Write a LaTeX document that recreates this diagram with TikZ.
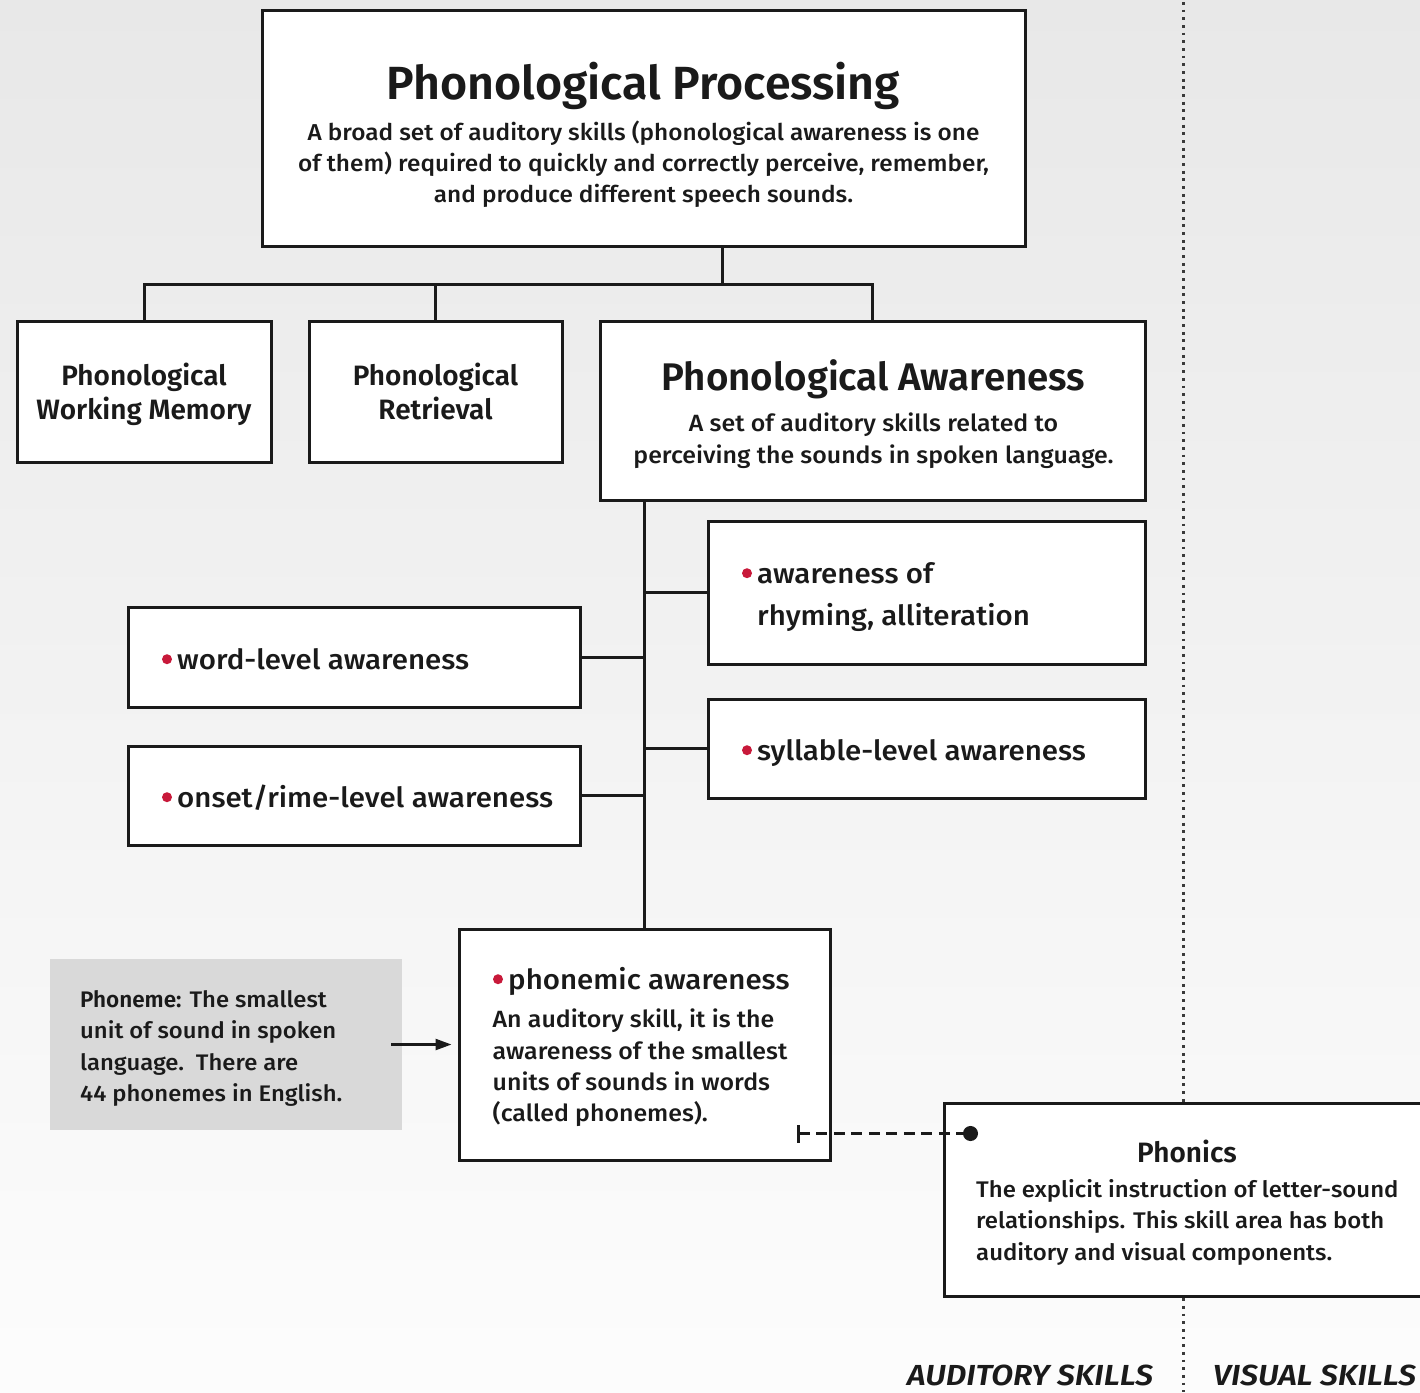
\documentclass[tikz,border=0pt]{standalone}
\usepackage{fontspec}
\usetikzlibrary{arrows.meta,calc}
\setmainfont{Fira Sans}
\IfFontExistsTF{Fira Sans Medium}
  {\newfontfamily\bodyfont{Fira Sans Medium}[FakeStretch=1.06]}
  {\newfontfamily\bodyfont{Fira Sans}[FakeStretch=1.06]}
\IfFontExistsTF{Fira Sans SemiBold}
  {\newfontfamily\headfont{Fira Sans SemiBold}}
  {\newfontfamily\headfont{Fira Sans Bold}}
\IfFontExistsTF{Fira Sans SemiBold Italic}
  {\newfontfamily\tagfont{Fira Sans SemiBold Italic}[FakeStretch=1.1]}
  {\newfontfamily\tagfont{Fira Sans Bold Italic}[FakeStretch=1.1]}
\newcommand\fsz[2]{\fontsize{#1}{#2}\selectfont}
\newcommand\topstrut{\rule{0pt}{1em}}
\definecolor{ink}{HTML}{1A1A1A}
\definecolor{bulletred}{HTML}{C8193A}
\definecolor{notegray}{HTML}{D9D9D9}
\definecolor{dotgray}{HTML}{3A3A3A}
\begin{document}
\begin{tikzpicture}[x=1pt,y=-1pt,
  box/.style={draw=ink, line width=3pt, fill=white, inner sep=0pt, rectangle},
  conn/.style={draw=ink, line width=3pt},
  bul/.style={fill=bulletred},
  txt/.style={inner sep=0pt, text=ink},
  body/.style={txt, font={\bodyfont\fsz{23}{31}}},
  item/.style={txt, font={\bodyfont\fsz{27.8}{42.5}}},
  head/.style={txt, font={\headfont\fsz{28}{34}}}
]
\useasboundingbox (0,0) rectangle (1420,1392);
\clip (0,0) rectangle (1420,1392);

% soft grey backdrop, fading to white at the foot
\shade[top color=black!9, middle color=black!6, bottom color=black!1]
  (0,0) rectangle (1420,1392);

% divider between auditory and visual skills
\draw[dotgray, line width=2.8pt, dash pattern=on 2.8pt off 4.87pt]
  (1183.5,2) -- (1183.5,1392);

% ---------- boxes ----------
\node[box, minimum width=763pt, minimum height=236pt] (top) at (643.5,128) {};
\node[box, minimum width=254pt, minimum height=141pt] (pwm) at (144,391.5) {};
\node[box, minimum width=253pt, minimum height=141pt] (pr) at (435.5,391.5) {};
\node[box, minimum width=545pt, minimum height=179pt] (pa) at (872.5,410.5) {};
\node[box, minimum width=437pt, minimum height=143pt] (rhy) at (926.5,592.5) {};
\node[box, minimum width=452pt, minimum height=100pt] (word) at (354,657) {};
\node[box, minimum width=437pt, minimum height=99pt] (syl) at (926.5,748.5) {};
\node[box, minimum width=452pt, minimum height=99pt] (onset) at (354,795.5) {};
\node[box, minimum width=371pt, minimum height=231pt] (phonemic) at (644.5,1044.5) {};
\node[fill=notegray, inner sep=0pt, minimum width=352pt, minimum height=171pt] (note) at (226,1044.5) {};
\node[box, minimum width=496pt, minimum height=193pt] (phonics) at (1192,1199.5) {};

% ---------- connectors ----------
\coordinate (hub) at (722,284);
\draw[conn] (top.south -| hub) -- (hub);
\draw[conn, line join=miter] (pwm.north) |- (hub) -| (pa.north);
\draw[conn] (pr.north) -- (pr.north |- hub);
\draw[conn] (pa.south -| phonemic.north) -- (phonemic.north);
\draw[conn] (rhy.west) -- (rhy.west -| phonemic.north);
\draw[conn] (word.east) -- (word.east -| phonemic.north);
\draw[conn] (syl.west) -- (syl.west -| phonemic.north);
\draw[conn] (onset.east) -- (onset.east -| phonemic.north);
\draw[ink, line width=2.5pt, -{Triangle[length=16pt,width=11pt]}]
  ([xshift=-11pt]note.east) -- ([xshift=-6pt]phonemic.west);
\coordinate (pdot) at ([shift={(35.5,32)}]phonics.north west);
\coordinate (pbar) at ([xshift=-35pt]phonemic.east |- pdot);
\draw[ink, line width=3pt, dash pattern=on 11pt off 6.5pt,
  {Bar[width=18pt,line width=3pt]}-{Circle[length=15pt]}] (pbar) -- (pdot);

% ---------- texts ----------
\node[txt, font={\headfont\fsz{46.5}{50}}, anchor=base] (ttop) at (643.5,99) {Phonological Processing};
\node[body, align=center, anchor=north] (dtop) at (643.5,117.7)
  {\topstrut A broad set of auditory skills (phonological awareness is one\\
   of them) required to quickly and correctly perceive, remember,\\
   and produce different speech sounds.};

\node[head, align=center, anchor=north] (tpwm) at (144,357) {\topstrut Phonological\\Working Memory};
\node[head, align=center, anchor=north] (tpr) at (435.5,357) {\topstrut Phonological\\Retrieval};

\node[txt, font={\headfont\fsz{38.5}{42}}, anchor=base] (tpa) at (873.5,390) {Phonological Awareness};
\node[body, font={\bodyfont\fsz{23.5}{32}}, align=center, anchor=north] (dpa) at (873.5,407.5)
  {\topstrut A set of auditory skills related to\\perceiving the sounds in spoken language.};

\node[item, align=left, anchor=north west] (trhy) at (757,555.2)
  {\topstrut awareness of\\rhyming, alliteration};
\node[item, anchor=base west] (tword) at (177,669) {word-level awareness};
\node[item, anchor=base west] (tsyl) at (757,760) {syllable-level awareness};
\node[item, anchor=base west] (tonset) at (177,807) {onset/rime-level awareness};
\node[item, anchor=base west] (tphm) at (508,989) {phonemic awareness};

\fill[bul] ($(trhy.north west)+(-10,18)$) circle (5pt);
\fill[bul] ($(tword.base west)+(-10,-9.8)$) circle (5pt);
\fill[bul] ($(tsyl.base west)+(-10,-9.8)$) circle (5pt);
\fill[bul] ($(tonset.base west)+(-10,-9.8)$) circle (5pt);
\fill[bul] ($(tphm.base west)+(-10,-9.8)$) circle (5pt);

\node[body, font={\bodyfont\fsz{23.5}{31.3}}, align=left, anchor=north west] (dphm) at (492.5,1004)
  {\topstrut An auditory skill, it is the\\awareness of the smallest\\units of sounds in words\\(called phonemes).};

\node[body, font={\bodyfont\fsz{22.5}{31.2}}, align=left, anchor=north west] (tnote) at (80,985)
  {\topstrut{\headfont Phoneme:} The smallest\\unit of sound in spoken\\language.\ \ There are\\44 phonemes in English.};

\node[txt, font={\headfont\fsz{28}{30}}, anchor=base] (tphon) at (1187,1162) {Phonics};
\node[body, font={\bodyfont\fsz{22.6}{31.5}}, align=left, anchor=north west] (dphon) at (976,1174.4)
  {\topstrut The explicit instruction of letter-sound\\relationships. This skill area has both\\auditory and visual components.};

\node[txt, font={\tagfont\fsz{29}{30}}, anchor=base west] (taud) at (907,1385) {AUDITORY SKILLS};
\node[txt, font={\tagfont\fsz{29}{30}}, anchor=base west] (tvis) at (1213,1385) {VISUAL SKILLS};
\end{tikzpicture}
\end{document}
